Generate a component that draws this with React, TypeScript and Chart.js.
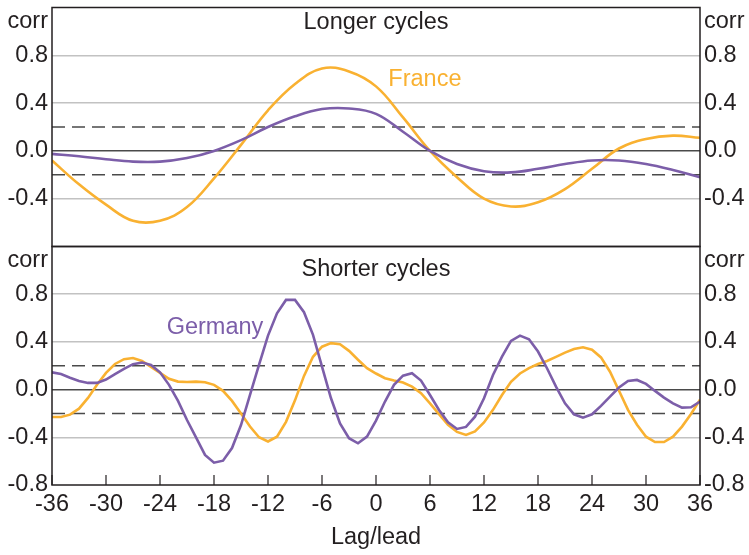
import React, { useEffect, useRef } from 'react';
import { Chart, registerables } from 'chart.js';

Chart.register(...registerables);

// ---------- data ----------
const LAGS_LONG = [-36, -33, -30, -27, -24, -21, -18, -15, -12, -9, -6, -3, 0, 3, 6, 9, 12, 15, 18, 21, 24, 27, 30, 33, 36];
const FRANCE_LONG = [-0.08, -0.28, -0.45, -0.585, -0.585, -0.47, -0.23, 0.05, 0.34, 0.56, 0.69, 0.665, 0.54, 0.28, 0.0, -0.22, -0.4, -0.465, -0.43, -0.32, -0.15, 0.02, 0.1, 0.128, 0.11];
const GERMANY_LONG = [-0.025, -0.045, -0.07, -0.09, -0.09, -0.06, 0.0, 0.09, 0.2, 0.29, 0.35, 0.355, 0.31, 0.16, 0.0, -0.11, -0.17, -0.18, -0.15, -0.11, -0.08, -0.08, -0.11, -0.16, -0.22];

const LAGS_SHORT = Array.from({ length: 73 }, (_, i) => i - 36);
const FRANCE_SHORT = [
  -0.23, -0.23, -0.21, -0.16, -0.07, 0.04, 0.14, 0.215, 0.255, 0.265, 0.24, 0.19,
  0.14, 0.09, 0.067, 0.064, 0.067, 0.062, 0.04, -0.01, -0.095, -0.2, -0.31, -0.4,
  -0.435, -0.395, -0.27, -0.09, 0.115, 0.275, 0.36, 0.39, 0.38, 0.325, 0.25, 0.18,
  0.135,
  0.095, 0.076, 0.059, 0.025, -0.03, -0.115, -0.205, -0.295, -0.355, -0.38, -0.35, -0.275,
  -0.17, -0.045, 0.065, 0.135, 0.18, 0.215, 0.24, 0.275, 0.31, 0.34, 0.355, 0.335,
  0.27, 0.15, -0.01, -0.17, -0.295, -0.395, -0.44, -0.44, -0.395, -0.31, -0.205, -0.085,
];
const GERMANY_SHORT = [
  0.145, 0.13, 0.1, 0.073, 0.056, 0.056, 0.084, 0.13, 0.173, 0.213, 0.227, 0.207,
  0.145, 0.04, -0.095, -0.255, -0.4, -0.548, -0.613, -0.596, -0.49, -0.297, -0.045, 0.207,
  0.453, 0.64, 0.752, 0.752, 0.649, 0.459, 0.193, -0.073, -0.283, -0.408, -0.45, -0.394,
  -0.26,
  -0.1, 0.04, 0.117, 0.137, 0.076, -0.045, -0.171, -0.274, -0.33, -0.313, -0.227, -0.073,
  0.123, 0.277, 0.408, 0.453, 0.422, 0.319, 0.179, 0.025, -0.115, -0.207, -0.235, -0.207,
  -0.137, -0.059, 0.017, 0.073, 0.081, 0.048, -0.011, -0.067, -0.115, -0.151, -0.148, -0.1,
];

const X_MIN = -36;
const X_MAX = 36;
const X_STEP = 6;
const X_TICKS = [-36, -30, -24, -18, -12, -6, 0, 6, 12, 18, 24, 30, 36];
const Y_MIN = -0.8;
const Y_MAX = 1.2;
const Y_STEP = 0.4;
const BAND = 0.2;

const TITLE_TOP = 'Longer cycles';
const TITLE_BOTTOM = 'Shorter cycles';
const X_TITLE = 'Lag/lead';
const Y_UNIT = 'corr';
const LABEL_FRANCE = { text: 'France', x: 1.37, y: 0.546 };
const LABEL_GERMANY = { text: 'Germany', x: -23.26, y: 0.464 };

// ---------- styles ----------
const FONT = '"Liberation Sans", Arial, Helvetica, sans-serif';
const FS = 23.5;
const TEXT = '#231f20';
const ORANGE = '#f9b131';
const PURPLE = '#7c5ea9';
const GRID = '#c2c2c2';
const ZERO = '#4a4a4a';
const DASH = '#4a4a4a';

const decoPlugin = {
  id: 'deco',
  afterDatasetsDraw(chart: any, _args: any, opts: any) {
    const { ctx, chartArea: a } = chart;
    const xs = chart.scales.x;
    const ys = chart.scales.y;
    ctx.save();
    ctx.strokeStyle = TEXT;
    ctx.lineWidth = 1.5;
    ctx.strokeRect(a.left, a.top, a.right - a.left, a.bottom - a.top);
    if (opts.innerTicks) {
      ctx.lineWidth = 1.2;
      for (const t of X_TICKS) {
        const px = xs.getPixelForValue(t);
        ctx.beginPath();
        ctx.moveTo(px, a.bottom);
        ctx.lineTo(px, a.bottom - 10);
        ctx.stroke();
      }
    }
    ctx.font = `${FS}px ${FONT}`;
    ctx.textBaseline = 'alphabetic';
    ctx.fillStyle = TEXT;
    ctx.textAlign = 'center';
    ctx.fillText(opts.title, (a.left + a.right) / 2, a.top + opts.titleOffset);
    ctx.textAlign = 'right';
    ctx.fillText(Y_UNIT, a.left - 4, a.top + opts.corrOffset);
    ctx.textAlign = 'left';
    ctx.fillText(Y_UNIT, a.right + 4, a.top + opts.corrOffset);
    for (const l of opts.labels || []) {
      ctx.fillStyle = l.color;
      ctx.textAlign = 'left';
      ctx.fillText(l.text, xs.getPixelForValue(l.x), ys.getPixelForValue(l.y));
    }
    ctx.restore();
  },
};

function fmt(v: number, hideBottom: boolean) {
  if (Math.abs(v - Y_MAX) < 1e-6) return '';
  if (hideBottom && Math.abs(v - Y_MIN) < 1e-6) return '';
  if (Math.abs(v) < 1e-9) return '0.0';
  return v.toFixed(1);
}

function gridColor(ctx: any) {
  const v = ctx.tick ? ctx.tick.value : 0;
  if (Math.abs(v) < 1e-9) return ZERO;
  if (Math.abs(v - Y_MAX) < 1e-6 || Math.abs(v - Y_MIN) < 1e-6) return 'rgba(0,0,0,0)';
  return GRID;
}

function yScales(hideBottom: boolean) {
  const ticks = {
    stepSize: Y_STEP,
    padding: 4,
    color: TEXT,
    font: { family: FONT, size: FS },
    callback: (v: any) => fmt(Number(v), hideBottom),
  };
  return {
    y: {
      position: 'left',
      min: Y_MIN,
      max: Y_MAX,
      ticks,
      grid: { color: gridColor, lineWidth: 1.5, drawTicks: false },
      border: { display: false },
      afterFit: (s: any) => {
        s.width = 52;
        s.paddingTop = 0;
        s.paddingBottom = 0;
      },
    },
    y2: {
      position: 'right',
      min: Y_MIN,
      max: Y_MAX,
      ticks,
      grid: { display: false, drawTicks: false },
      border: { display: false },
      afterFit: (s: any) => {
        s.width = 49;
        s.paddingTop = 0;
        s.paddingBottom = 0;
      },
    },
  };
}

function bandSets() {
  return [BAND, -BAND].map((b) => ({
    data: [
      { x: X_MIN, y: b },
      { x: X_MAX, y: b },
    ],
    borderColor: DASH,
    borderWidth: 1.5,
    borderDash: [13, 7],
    pointRadius: 0,
    yAxisID: 'y',
  }));
}

function series(lags: number[], vals: number[], color: string, smooth: boolean) {
  return {
    data: lags.map((x, i) => ({ x, y: vals[i] })),
    borderColor: color,
    borderWidth: 2.6,
    pointRadius: 0,
    tension: smooth ? 0.4 : 0,
    yAxisID: 'y',
  };
}

export default function App() {
  const topRef = useRef<HTMLCanvasElement>(null);
  const botRef = useRef<HTMLCanvasElement>(null);

  useEffect(() => {
    const top = new Chart(topRef.current as HTMLCanvasElement, {
      type: 'line',
      data: {
        datasets: [
          series(LAGS_LONG, GERMANY_LONG, PURPLE, true),
          series(LAGS_LONG, FRANCE_LONG, ORANGE, true),
          ...bandSets(),
        ] as any,
      },
      options: {
        responsive: false,
        animation: false,
        events: [],
        layout: { padding: { top: 7.5, bottom: 555 - 246.5, left: 0, right: 0 } },
        plugins: {
          legend: { display: false },
          tooltip: { enabled: false },
          deco: {
            title: TITLE_TOP,
            titleOffset: 21,
            corrOffset: 20,
            labels: [{ ...LABEL_FRANCE, color: ORANGE }],
          },
        } as any,
        scales: {
          x: { type: 'linear', min: X_MIN, max: X_MAX, display: false },
          ...yScales(true),
        } as any,
      },
      plugins: [decoPlugin],
    });

    const bot = new Chart(botRef.current as HTMLCanvasElement, {
      type: 'line',
      data: {
        datasets: [
          series(LAGS_SHORT, GERMANY_SHORT, PURPLE, false),
          series(LAGS_SHORT, FRANCE_SHORT, ORANGE, false),
          ...bandSets(),
        ] as any,
      },
      options: {
        responsive: false,
        animation: false,
        events: [],
        layout: { padding: { top: 246.5, bottom: 0, left: 0, right: 0 } },
        plugins: {
          legend: { display: false },
          tooltip: { enabled: false },
          deco: {
            title: TITLE_BOTTOM,
            titleOffset: 29,
            corrOffset: 20,
            innerTicks: true,
            labels: [{ ...LABEL_GERMANY, color: PURPLE }],
          },
        } as any,
        scales: {
          x: {
            type: 'linear',
            position: 'bottom',
            min: X_MIN,
            max: X_MAX,
            ticks: {
              stepSize: X_STEP,
              autoSkip: false,
              maxRotation: 0,
              padding: 5,
              color: TEXT,
              font: { family: FONT, size: FS },
              callback: (v: any) => String(v),
            },
            grid: { drawOnChartArea: false, drawTicks: false },
            border: { display: false },
            title: {
              display: true,
              text: X_TITLE,
              color: TEXT,
              font: { family: FONT, size: FS },
              padding: { top: 0, bottom: 3.5 },
            },
            afterFit: (s: any) => {
              s.height = 70;
              s.paddingLeft = 0;
              s.paddingRight = 0;
            },
          },
          ...yScales(false),
        } as any,
      },
      plugins: [decoPlugin],
    });

    return () => {
      top.destroy();
      bot.destroy();
    };
  }, []);

  const cs: React.CSSProperties = { position: 'absolute', left: 0, top: 0 };
  return (
    <div style={{ position: 'fixed', left: 0, top: 0, width: 749, height: 555, background: '#fff' }}>
      <canvas ref={topRef} width={749} height={555} style={cs} />
      <canvas ref={botRef} width={749} height={555} style={cs} />
    </div>
  );
}
